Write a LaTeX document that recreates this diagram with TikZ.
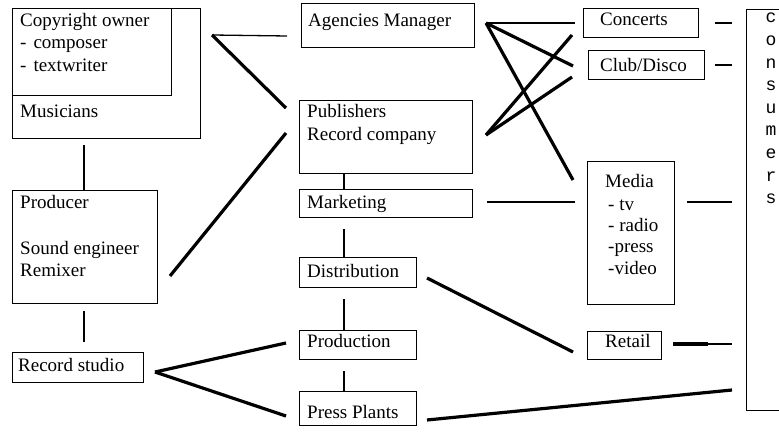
\documentclass[tikz,border=0pt]{standalone}
\usepackage{fontspec}
\setmainfont{Liberation Serif}
\newfontfamily\monof{Liberation Mono}
\begin{document}
\begin{tikzpicture}[x=1pt,y=-1pt,
  box/.style={draw, line width=1.4pt, anchor=north west, inner sep=0pt},
  txt/.style={anchor=base west, inner sep=0pt, font=\fontsize{19}{23}\selectfont},
  ltr/.style={anchor=base, inner sep=0pt, font=\monof\fontsize{18}{22}\selectfont},
  thin/.style={line width=1.3pt},
  thick/.style={line width=3.2pt}]
\useasboundingbox (0,0) rectangle (779,435);
% boxes
\node[box, minimum width=188pt, minimum height=130pt] (cpo) at (12,8) {};
\node[box, minimum width=159pt, minimum height=87pt] (cpi) at (12,8) {};
\node[box, minimum width=145pt, minimum height=113pt] (prod) at (12,190) {};
\node[box, minimum width=131pt, minimum height=30pt] (rs) at (12,352) {};
\node[box, minimum width=173pt, minimum height=44pt] (agm) at (301,3) {};
\node[box, minimum width=173pt, minimum height=73pt] (pub) at (299,100) {};
\node[box, minimum width=173pt, minimum height=28pt] (mkt) at (299,189) {};
\node[box, minimum width=117pt, minimum height=30pt] (dist) at (299,257) {};
\node[box, minimum width=117pt, minimum height=29pt] (prodn) at (299,330) {};
\node[box, minimum width=117pt, minimum height=34pt] (press) at (299,391) {};
\node[box, minimum width=115pt, minimum height=29pt] (conc) at (583,8) {};
\node[box, minimum width=116pt, minimum height=29pt] (club) at (588,50) {};
\node[box, minimum width=87pt, minimum height=143pt] (media) at (587,161) {};
\node[box, minimum width=74pt, minimum height=28pt] (retail) at (587,331) {};
\node[box, minimum width=60pt, minimum height=401pt] (cons) at (746,9) {};
% texts
\node[txt] (t1) at (20,27) {Copyright owner};
\node[txt] (t2) at (20,49) {-\hspace{7pt}composer};
\node[txt] (t3) at (20,72) {-\hspace{7pt}textwriter};
\node[txt] (t4) at (20,118) {Musicians};
\node[txt] (t5) at (20,209) {Producer};
\node[txt] (t6) at (20,255) {Sound engineer};
\node[txt] (t7) at (20,277) {Remixer};
\node[txt] (t8) at (18,372) {Record studio};
\node[txt] (t9) at (308,27) {Agencies Manager};
\node[txt] (t10) at (307,118) {Publishers};
\node[txt] (t11) at (307,141) {Record company};
\node[txt] (t12) at (307,209) {Marketing};
\node[txt] (t13) at (307,278) {Distribution};
\node[txt] (t14) at (307,348) {Production};
\node[txt] (t15) at (307,418) {Press Plants};
\node[txt] (t16) at (600,26) {Concerts};
\node[txt] (t17) at (600,72) {Club/Disco};
\node[txt] (t18) at (605,188) {Media};
\node[txt] (t19) at (608,211) {- tv};
\node[txt] (t20) at (608,232) {- radio};
\node[txt] (t21) at (608,253) {-press};
\node[txt] (t22) at (608,275) {-video};
\node[txt] (t23) at (605,348) {Retail};
\foreach \c [count=\i] in {c,o,n,s,u,m,e,r,s}
  \node[ltr] (cl\i) at (771,{23+22.6*(\i-1)}) {\c};
% connector end points
\coordinate (cpoJ) at (212,35);
\coordinate (agmL) at (287,36);
\coordinate (pubL1) at (286,108);
\coordinate (pubL2) at (286,133);
\coordinate (prodR) at (170,276);
\coordinate (agmJ) at (486,23);
\coordinate (concL) at (575,23);
\coordinate (clubL1) at (573,66);
\coordinate (mediaL1) at (573,180);
\coordinate (pubJ) at (486,135);
\coordinate (concL2) at (572,35);
\coordinate (clubL2) at (572,77);
\coordinate (mktR) at (487,202);
\coordinate (mediaL) at (575,202);
\coordinate (mediaR) at (687,202);
\coordinate (consL3) at (732,202);
\coordinate (concR) at (715,23);
\coordinate (consL1) at (732,23);
\coordinate (clubR) at (715,65);
\coordinate (consL2) at (732,65);
\coordinate (distR) at (427,278);
\coordinate (retailL) at (573,352);
\coordinate (retailR) at (673,344);
\coordinate (retailM) at (708,344);
\coordinate (consL4) at (732,344);
\coordinate (pressR) at (427,420);
\coordinate (consL5) at (732,390);
\coordinate (rsJ) at (155,372);
\coordinate (prodnL) at (286,343);
\coordinate (pressL) at (286,416);
% connectors
\draw[thin] (cpoJ) -- (agmL);
\draw[thick] (cpoJ) -- (pubL1);
\draw[thick] (prodR) -- (pubL2);
\draw[thin] (agmJ) -- (concL);
\draw[thick] (agmJ) -- (clubL1);
\draw[thick] (agmJ) -- (mediaL1);
\draw[thick] (pubJ) -- (concL2);
\draw[thick] (pubJ) -- (clubL2);
\draw[thin] (mktR) -- (mediaL);
\draw[thin] (mediaR) -- (consL3);
\draw[thin] (concR) -- (consL1);
\draw[thin] (clubR) -- (consL2);
\draw[thick] (distR) -- (retailL);
\draw[thick] (retailR) -- (retailM);
\draw[thin] (retailM) -- (consL4);
\draw[thick] (pressR) -- (consL5);
\draw[thick] (rsJ) -- (prodnL);
\draw[thick] (rsJ) -- (pressL);
% vertical connectors
\draw[thin] ([xshift=72pt,yshift=-6pt]cpo.south west) -- ([xshift=72pt]prod.north west);
\draw[thin] ([xshift=72pt,yshift=-7pt]prod.south west) -- ([xshift=72pt,yshift=10pt]rs.north west);
\draw[thin] ([xshift=45pt]pub.south west) -- ([xshift=45pt]mkt.north west);
\draw[thin] ([xshift=45pt,yshift=-11pt]mkt.south west) -- ([xshift=45pt]dist.north west);
\draw[thin] ([xshift=45pt,yshift=-11pt]dist.south west) -- ([xshift=45pt]prodn.north west);
\draw[thin] ([xshift=45pt,yshift=-11pt]prodn.south west) -- ([xshift=45pt]press.north west);
\end{tikzpicture}
\end{document}
